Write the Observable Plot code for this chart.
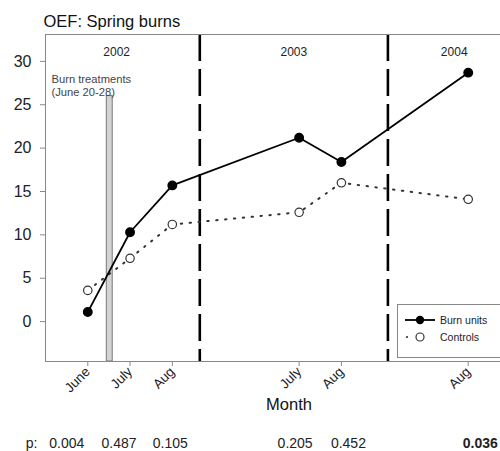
<!DOCTYPE html>
<html>
<head>
<meta charset="utf-8">
<script src="https://cdn.jsdelivr.net/npm/d3@7"></script>
<script src="https://cdn.jsdelivr.net/npm/@observablehq/plot@0.6"></script>
<style>
  html, body { margin: 0; padding: 0; background: #fff; overflow: hidden; width: 500px; height: 451px; }
  #chart { width: 500px; height: 451px; overflow: hidden; }
  #chart svg { display: block; max-width: none !important; width: 520px !important; height: 451px !important; }
</style>
</head>
<body>
<div id="chart"></div>
<script>
// ---- Data ----
const monthLabels = ["June", "July", "Aug", "July", "Aug", "Aug"];
const monthSlots  = [0, 1, 2, 5, 6, 9];          // compressed time axis (months since June 2002, gaps removed)
const burnUnits   = [1.1, 10.3, 15.7, 21.2, 18.4, 28.7];
const controls    = [3.6, 7.3, 11.2, 12.6, 16.0, 14.1];
const pValues     = ["0.004", "0.487", "0.105", "0.205", "0.452", "0.036"];
const pBold       = [false, false, false, false, false, true];
const years       = ["2002", "2003", "2004"];
const yearBreaks  = [2.65, 7.1];
const burnWindow  = [0.45, 0.59];                // June 20-28 burn treatment
const burnBarTop  = 26;
const yTicks      = [0, 5, 10, 15, 20, 25, 30];

// ---- Derived tables ----
const rows = monthSlots.map((s, i) => ({slot: s, label: monthLabels[i], burn: burnUnits[i], ctrl: controls[i]}));
const xDomain = [-1, 10];
const yDomain = [-4.6, 33.1];
const bounds = [xDomain[0], ...yearBreaks, xDomain[1]];
const yearMid = years.map((y, i) => (bounds[i] + bounds[i + 1]) / 2);
const yearShift = [-6, 0, 5];
const pShift = [-21, -11, -2, -4, 7, 12];

const font = "'Liberation Sans', Arial, Helvetica, sans-serif";

const chart = Plot.plot({
  width: 520,
  height: 451,
  marginLeft: 45,
  marginRight: 10,
  marginTop: 34,
  marginBottom: 90,
  style: {fontFamily: font, background: "#fff", color: "#222"},
  x: {domain: xDomain},
  y: {domain: yDomain},
  marks: [
    // burn treatment bar
    Plot.rect([burnWindow], {x1: d => d[0], x2: d => d[1], y1: yDomain[0], y2: burnBarTop,
      fill: "#d4d4d4", stroke: "#777", strokeWidth: 1}),
    // year separators
    Plot.ruleX(yearBreaks, {stroke: "#000", strokeWidth: 2.6, strokeDasharray: "27,8"}),
    Plot.frame({stroke: "#888", strokeWidth: 1}),
    Plot.axisY({ticks: yTicks, tickSize: 5, tickPadding: 9, fontSize: 16, label: null, stroke: "#888", fill: "#222"}),
    Plot.axisX({ticks: monthSlots, tickFormat: d => monthLabels[monthSlots.indexOf(d)], tickRotate: -45,
      tickSize: 5, tickPadding: 3, fontSize: 13.5, label: null, stroke: "#888", fill: "#222"}),
    // controls (dotted)
    Plot.line(rows, {x: "slot", y: "ctrl", stroke: "#333", strokeWidth: 2, strokeDasharray: "1.4,7.5", strokeLinecap: "round"}),
    // burn units (solid)
    Plot.line(rows, {x: "slot", y: "burn", stroke: "#000", strokeWidth: 1.8}),
    Plot.dot(rows, {x: "slot", y: "ctrl", r: 4.2, fill: "#fff", stroke: "#333", strokeWidth: 1.2}),
    Plot.dot(rows, {x: "slot", y: "burn", r: 4.2, fill: "#000", stroke: "#000"}),
    // year labels
    ...years.map((y, i) => Plot.text([y], {x: () => yearMid[i], frameAnchor: "top", dx: yearShift[i], dy: 13,
      fontSize: 12, fill: "#222"})),
    // burn treatment note
    Plot.text(["Burn treatments\n(June 20-28)"], {frameAnchor: "top-left", dx: 6, dy: 39, textAnchor: "start",
      lineAnchor: "top", fontSize: 11.2, lineHeight: 1.18, fill: "#444"}),
    // title
    Plot.text(["OEF: Spring burns"], {frameAnchor: "top-left", dx: -2, dy: -8, textAnchor: "start",
      lineAnchor: "bottom", fontSize: 16.5, fill: "#111"}),
    // x label
    Plot.text(["Month"], {frameAnchor: "bottom", dx: 11, dy: 48, fontSize: 16.5, fill: "#111"}),
    // p row
    Plot.text(["p:"], {frameAnchor: "bottom-left", dx: -8, dy: 86, textAnchor: "end", lineAnchor: "bottom", fontSize: 14, fill: "#222"}),
    ...pValues.map((p, i) => Plot.text([p], {x: () => monthSlots[i], frameAnchor: "bottom", dx: pShift[i], dy: 86,
      lineAnchor: "bottom", fontSize: 14, fontWeight: pBold[i] ? "bold" : "normal", fill: "#222"}))
  ]
});

// ---- Legend box ----
const svg = d3.select(chart);
const lg = svg.append("g").attr("font-family", font).attr("font-size", 10.5).attr("fill", "#222")
  .attr("text-anchor", "start");
lg.append("rect").attr("x", 397.5).attr("y", 304.5).attr("width", 130).attr("height", 53)
  .attr("fill", "#fff").attr("stroke", "#888");
lg.append("line").attr("x1", 405).attr("x2", 435).attr("y1", 320).attr("y2", 320).attr("stroke", "#000").attr("stroke-width", 1.8);
lg.append("circle").attr("cx", 420).attr("cy", 320).attr("r", 4.2).attr("fill", "#000");
lg.append("text").attr("x", 440).attr("y", 320).attr("dy", "0.35em").text("Burn units");
lg.append("circle").attr("cx", 407).attr("cy", 337).attr("r", 1).attr("fill", "#222");
lg.append("circle").attr("cx", 420).attr("cy", 337).attr("r", 4).attr("fill", "#fff").attr("stroke", "#333").attr("stroke-width", 1.2);
lg.append("text").attr("x", 440).attr("y", 337).attr("dy", "0.35em").text("Controls");

document.getElementById("chart").appendChild(chart);
</script>
</body>
</html>
